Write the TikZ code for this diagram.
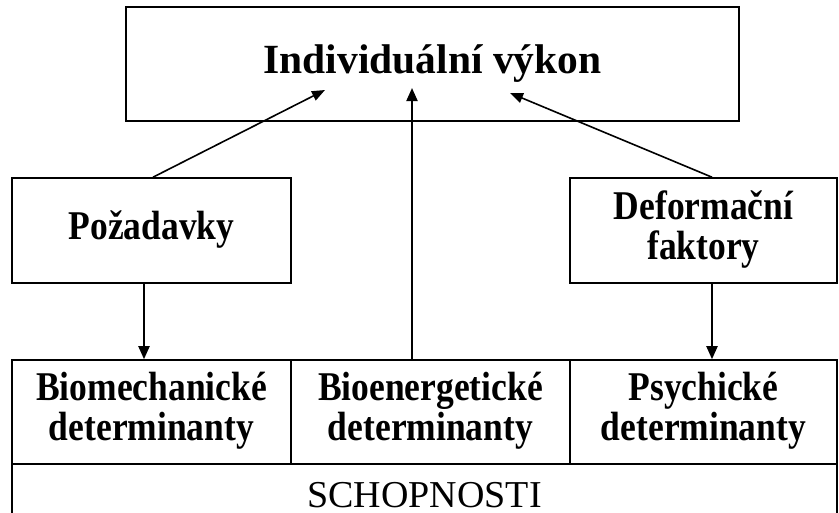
\documentclass[tikz,border=0pt]{standalone}
\usepackage{graphicx}
\usepackage{fontspec}
\setmainfont{Liberation Serif}
\usetikzlibrary{arrows.meta,calc}
\newcommand{\bt}[1]{\scalebox{1}[1.15]{\bfseries\fontsize{35.5}{33}\selectfont\begin{tabular}{@{}c@{}}#1\end{tabular}}}
\begin{document}
\begin{tikzpicture}[x=1pt,y=1pt,
  box/.style={draw, line width=1.6pt, rectangle, inner sep=0pt, align=center},
  arr/.style={line width=2pt, -{Triangle[length=13pt,width=11pt]}},
  diag/.style={line width=1.6pt, -{Triangle[length=13pt,width=10pt]}}]
\useasboundingbox (0,0) rectangle (839,-512);
\node[box, minimum width=613pt, minimum height=114pt] (top) at (432.5,-64)
  {\bfseries\fontsize{41.5}{48}\selectfont Individuální výkon};
\node[box, minimum width=279pt, minimum height=105pt] (poz) at (151.5,-230.5) {\bt{Požadavky}};
\node[box, minimum width=267pt, minimum height=105pt] (def) at (703.5,-230.5) {\bt{Deformační\\faktory}};
\node[box, minimum width=279pt, minimum height=104pt] (bio) at (151.5,-412) {\bt{Biomechanické\\determinanty}};
\node[box, minimum width=279pt, minimum height=104pt] (bioe) at (430.5,-412) {\bt{Bioenergetické\\determinanty}};
\node[box, minimum width=267pt, minimum height=104pt] (psy) at (703.5,-412) {\bt{Psychické\\determinanty}};
\node[box, minimum width=825pt, minimum height=63pt] (schop) at (424.5,-495.5)
  {\fontsize{38}{44}\selectfont SCHOPNOSTI};
\coordinate (tl) at (325,-90);
\coordinate (tm) at (412,-88);
\coordinate (tr) at (510,-93);
\draw[arr] ([xshift=-7.5pt]poz.south) -- ([xshift=-7.5pt]bio.north);
\draw[arr] ([xshift=8.5pt]def.south) -- ([xshift=8.5pt]psy.north);
\draw[arr] (bioe.north -| tm) -- (tm);
\draw[diag] ([xshift=1.5pt]poz.north) -- (tl);
\draw[diag] ([xshift=8.5pt]def.north) -- (tr);
\end{tikzpicture}
\end{document}
